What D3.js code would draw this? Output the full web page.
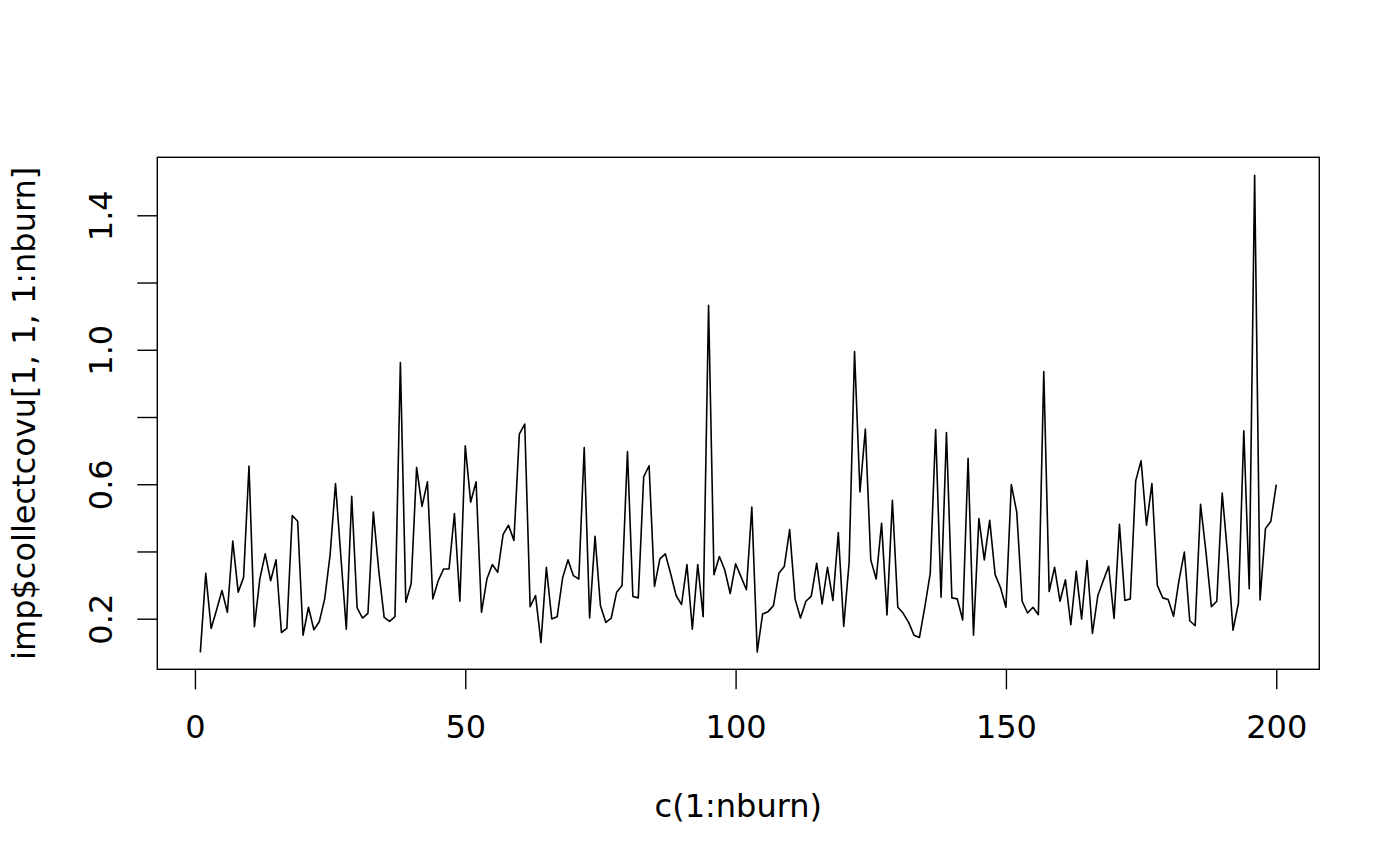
<!DOCTYPE html>
<html>
<head>
<meta charset="utf-8">
<script src="https://cdn.jsdelivr.net/npm/d3@7"></script>
<style>
  body { margin: 0; background: #fff; }
  text { font-family: "DejaVu Sans", sans-serif; fill: #000; }
</style>
</head>
<body>
<svg id="chart" width="1400" height="866"></svg>
<script>
const WIDTH = 1400
const HEIGHT = 866

// iteration index c(1:nburn)
const iterations = d3.range(1, 201);

// imp$collectcovu[1, 1, 1:nburn]
const covu = [
  0.100, 0.335, 0.171, 0.226, 0.284, 0.219, 0.431, 0.279, 0.323, 0.654,
  0.176, 0.318, 0.393, 0.313, 0.375, 0.159, 0.171, 0.507, 0.490, 0.151,
  0.234, 0.167, 0.191, 0.259, 0.390, 0.602, 0.383, 0.169, 0.564, 0.232,
  0.202, 0.216, 0.517, 0.343, 0.204, 0.192, 0.206, 0.962, 0.249, 0.305,
  0.650, 0.534, 0.607, 0.259, 0.313, 0.348, 0.348, 0.513, 0.252, 0.714,
  0.547, 0.607, 0.219, 0.318, 0.361, 0.338, 0.451, 0.478, 0.433, 0.749,
  0.779, 0.236, 0.269, 0.129, 0.353, 0.199, 0.206, 0.321, 0.375, 0.328,
  0.318, 0.709, 0.202, 0.445, 0.239, 0.189, 0.202, 0.279, 0.299, 0.697,
  0.266, 0.262, 0.622, 0.655, 0.296, 0.378, 0.393, 0.333, 0.269, 0.242,
  0.361, 0.169, 0.361, 0.206, 1.132, 0.331, 0.385, 0.345, 0.275, 0.363,
  0.325, 0.286, 0.532, 0.101, 0.214, 0.221, 0.239, 0.335, 0.355, 0.465,
  0.259, 0.202, 0.252, 0.267, 0.365, 0.244, 0.353, 0.254, 0.456, 0.177,
  0.368, 0.995, 0.577, 0.764, 0.375, 0.318, 0.484, 0.211, 0.552, 0.234,
  0.216, 0.189, 0.151, 0.144, 0.235, 0.335, 0.763, 0.264, 0.754, 0.262,
  0.259, 0.196, 0.677, 0.151, 0.498, 0.375, 0.493, 0.331, 0.292, 0.234,
  0.599, 0.517, 0.252, 0.217, 0.234, 0.212, 0.935, 0.281, 0.353, 0.252,
  0.316, 0.182, 0.341, 0.199, 0.373, 0.156, 0.269, 0.313, 0.356, 0.201,
  0.481, 0.254, 0.259, 0.610, 0.670, 0.478, 0.602, 0.299, 0.262, 0.257,
  0.207, 0.313, 0.398, 0.194, 0.179, 0.540, 0.398, 0.236, 0.252, 0.574,
  0.390, 0.166, 0.246, 0.759, 0.289, 1.519, 0.256, 0.468, 0.490, 0.599
];

const xTicks = [0, 50, 100, 150, 200];
const yTicks = [0.2, 0.4, 0.6, 0.8, 1.0, 1.2, 1.4];
const yTickLabels = ['0.2', '', '0.6', '', '1.0', '', '1.4'];

const xTitle = 'c(1:nburn)';
const yTitle = 'imp$collectcovu[1, 1, 1:nburn]';

let padding = { left: 157.3, right: 80.7, top: 157.3, bottom: 196.7 };
let fontSize = 32;
let tickLen = 20;

const svg = d3.select('#chart');

// R style 4% extension of the data range
let xr = d3.extent(iterations);
let xPad = (xr[1] - xr[0]) * 0.04;
const xScale = d3.scaleLinear()
    .domain([xr[0] - xPad, xr[1] + xPad])
    .range([padding.left, WIDTH - padding.right]);

const yScale = d3.scaleLinear()
    .domain([0.0495, 1.5725])
    .range([HEIGHT - padding.bottom, padding.top]);

// x axis
const xAxisG = svg.append('g')
    .attr('transform', `translate(0, ${HEIGHT - padding.bottom})`)
    .call(d3.axisBottom(xScale).tickValues(xTicks).tickSize(tickLen).tickPadding(26).tickFormat(d3.format('d')));
xAxisG.select('.domain').remove();
xAxisG.selectAll('line').attr('stroke', '#000').attr('stroke-width', 1.4);
xAxisG.selectAll('text')
    .style('font-size', fontSize + 'px')
    .style('font-family', '"DejaVu Sans", sans-serif');

// y axis, labels rotated like R's default las = 0
const yAxisG = svg.append('g')
    .attr('transform', `translate(${padding.left}, 0)`)
    .call(d3.axisLeft(yScale).tickValues(yTicks).tickSize(tickLen).tickFormat((d, i) => yTickLabels[i]));
yAxisG.select('.domain').remove();
yAxisG.selectAll('line').attr('stroke', '#000').attr('stroke-width', 1.4);
yAxisG.selectAll('text')
    .attr('x', 0)
    .attr('y', -45.6)
    .attr('dy', null)
    .attr('transform', 'rotate(-90)')
    .attr('text-anchor', 'middle')
    .style('font-size', fontSize + 'px')
    .style('font-family', '"DejaVu Sans", sans-serif');

// the series
svg.append('path')
    .datum(covu)
    .attr('fill', 'none')
    .attr('stroke', '#000')
    .attr('stroke-width', 1.6)
    .attr('stroke-linejoin', 'round')
    .attr('d', d3.line()
        .x((d, i) => xScale(iterations[i]))
        .y(d => yScale(d)));

// plot box
svg.append('rect')
    .attr('x', padding.left)
    .attr('y', padding.top)
    .attr('width', WIDTH - padding.left - padding.right)
    .attr('height', HEIGHT - padding.top - padding.bottom)
    .attr('fill', 'none')
    .attr('stroke', '#000')
    .attr('stroke-width', 1.4);

// axis titles
svg.append('text')
    .text(xTitle)
    .attr('x', (padding.left + WIDTH - padding.right) / 2)
    .attr('y', 816.7)
    .attr('text-anchor', 'middle')
    .style('font-size', fontSize + 'px');

svg.append('text')
    .text(yTitle)
    .attr('transform', `translate(35, ${(padding.top + HEIGHT - padding.bottom) / 2}) rotate(-90)`)
    .attr('text-anchor', 'middle')
    .style('font-size', fontSize + 'px');
</script>
</body>
</html>
